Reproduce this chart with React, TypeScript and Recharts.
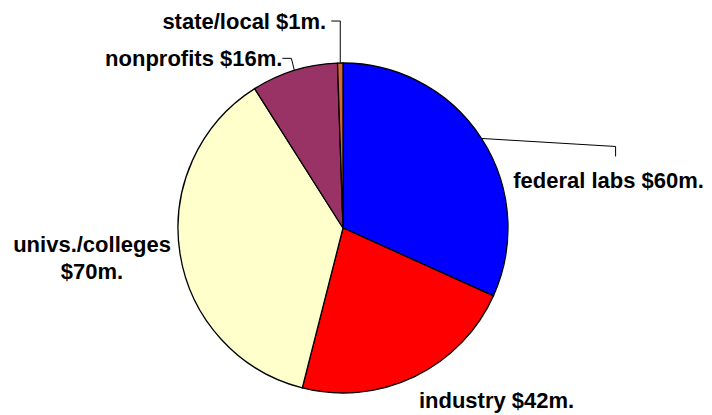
import React from 'react';
import { Cell, Pie, PieChart } from 'recharts';

const categories = ['federal labs', 'industry', 'univs./colleges', 'nonprofits', 'state/local'];
const amounts = [60, 42, 70, 16, 1];
const valueLabels = ['$60m.', '$42m.', '$70m.', '$16m.', '$1m.'];
const sliceColors = ['#0000FF', '#FF0000', '#FFFFCC', '#993366', '#D2693C'];

const data = categories.map((name, i) => ({ name, value: amounts[i], money: valueLabels[i] }));

const RADIAN = Math.PI / 180;
const FONT = '"Liberation Sans", Arial, sans-serif';

// label placement relative to the point where the slice's mid-angle meets the rim
type LabelLayout = {
  line?: [number, number][];
  lines: { dx: number; dy: number; text: (d: { name: string; money: string }) => string }[];
  anchor: 'start' | 'middle' | 'end';
};

const labelLayout: LabelLayout[] = [
  {
    line: [[0, 0], [134, 8], [134, 18]],
    lines: [{ dx: 127, dy: 42, text: (d) => `${d.name} ${d.money}` }],
    anchor: 'middle',
  },
  {
    lines: [{ dx: 82, dy: 24, text: (d) => `${d.name} ${d.money}` }],
    anchor: 'middle',
  },
  {
    lines: [
      { dx: -88, dy: -9, text: (d) => d.name },
      { dx: -88, dy: 18, text: (d) => d.money },
    ],
    anchor: 'middle',
  },
  {
    line: [[0, 0], [-3, -12], [-12, -12]],
    lines: [{ dx: -12, dy: -12, text: (d) => `${d.name} ${d.money}` }],
    anchor: 'end',
  },
  {
    line: [[0, 0], [0, -42], [-9, -42]],
    lines: [{ dx: -14, dy: -42, text: (d) => `${d.name} ${d.money}` }],
    anchor: 'end',
  },
];

function renderLabel(props: any) {
  const { cx, cy, midAngle, outerRadius, index } = props;
  const ex = cx + outerRadius * Math.cos(-midAngle * RADIAN);
  const ey = cy + outerRadius * Math.sin(-midAngle * RADIAN);
  const layout = labelLayout[index];
  const d = data[index];
  return (
    <g key={`label-${index}`}>
      {layout.line && (
        <polyline
          points={layout.line.map(([x, y]) => `${ex + x},${ey + y}`).join(' ')}
          fill="none"
          stroke="#000"
          strokeWidth={1}
        />
      )}
      {layout.lines.map((l, j) => (
        <text
          key={j}
          x={ex + l.dx}
          y={ey + l.dy}
          textAnchor={layout.anchor}
          dominantBaseline="central"
          fontFamily={FONT}
          fontWeight="bold"
          fontSize={22}
          fill="#000"
        >
          {l.text(d)}
        </text>
      ))}
    </g>
  );
}

export default function App() {
  return (
    <div style={{ position: 'absolute', left: 0, top: 0, width: 712, height: 415, background: '#fff' }}>
      <PieChart width={712} height={415} margin={{ top: 0, right: 0, bottom: 0, left: 0 }}>
        <Pie
          data={data}
          dataKey="value"
          nameKey="name"
          cx={343}
          cy={228}
          outerRadius={165}
          startAngle={90}
          endAngle={-270}
          stroke="#000"
          strokeWidth={1.3}
          label={renderLabel}
          labelLine={false}
          isAnimationActive={false}
        >
          {data.map((entry, i) => (
            <Cell key={entry.name} fill={sliceColors[i]} />
          ))}
        </Pie>
      </PieChart>
    </div>
  );
}
